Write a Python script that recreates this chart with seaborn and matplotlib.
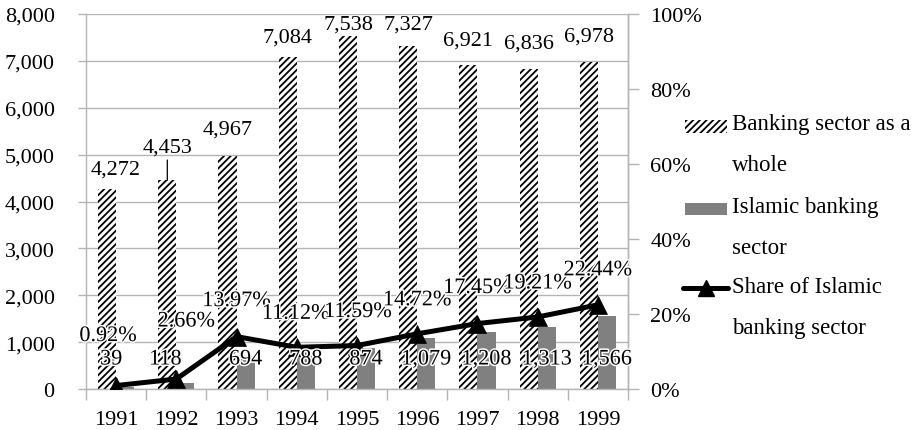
import matplotlib
matplotlib.use("Agg")
import matplotlib.pyplot as plt
import matplotlib.patheffects as pe
from matplotlib.patches import Rectangle
from matplotlib.lines import Line2D
import numpy as np
import pandas as pd
import seaborn as sns

# ---- data -------------------------------------------------------------
years = ["1991", "1992", "1993", "1994", "1995", "1996", "1997", "1998", "1999"]
banking_total = [4272, 4453, 4967, 7084, 7538, 7327, 6921, 6836, 6978]
islamic_banking = [39, 118, 694, 788, 874, 1079, 1208, 1313, 1566]
islamic_share = [0.92, 2.66, 13.97, 11.12, 11.59, 14.72, 17.45, 19.21, 22.44]
left_ticks = [0, 1000, 2000, 3000, 4000, 5000, 6000, 7000, 8000]
right_ticks = [0, 20, 40, 60, 80, 100]
series_names = ["Banking sector as a whole", "Islamic banking sector",
                "Share of Islamic banking sector"]

# ---- style ------------------------------------------------------------
sns.set_theme(style="white")
plt.rcParams["font.family"] = ["Liberation Serif", "DejaVu Serif"]
plt.rcParams["hatch.linewidth"] = 1.3
FS = 16
GRID = "#b4b4b4"
BAR_GRAY = "#808080"

W, H = 915, 431
fig = plt.figure(figsize=(W / 100, H / 100), dpi=100)
fig.patch.set_facecolor("white")
ax = fig.add_axes([86 / W, 1 - 390 / H, (628 - 86) / W, 375 / H])

df = pd.DataFrame({
    "Year": years * 2,
    "Value": banking_total + islamic_banking,
    "Series": [series_names[0]] * len(years) + [series_names[1]] * len(years),
})
sns.barplot(data=df, x="Year", y="Value", hue="Series",
            palette=["white", BAR_GRAY], saturation=1, width=0.6,
            ax=ax, legend=False, zorder=2)

for bar in ax.containers[0]:
    bar.set_hatch("/////")
    bar.set_edgecolor("black")
    bar.set_linewidth(0)
for bar in ax.containers[1]:
    bar.set_linewidth(0)

ax.set_xlim(-0.5, len(years) - 0.5)
ax.set_ylim(left_ticks[0], left_ticks[-1])
ax.set_yticks(left_ticks)
ax.set_yticklabels([f"{v:,}" for v in left_ticks], fontsize=FS, color="black")
ax.set_xlabel("")
ax.set_ylabel("")
ax.tick_params(axis="x", which="major", length=0, pad=15, labelsize=FS,
               labelcolor="black")
ax.set_xticks(np.arange(-0.5, len(years)), minor=True)
ax.tick_params(axis="x", which="minor", length=8, width=1, color=GRID,
               direction="out", bottom=True)
ax.tick_params(axis="y", length=6, width=1, color=GRID, direction="out",
               pad=16.5, left=True)
ax.yaxis.grid(True, color=GRID, linewidth=1)
ax.set_axisbelow(True)
for side in ["left", "bottom", "right"]:
    ax.spines[side].set_color(GRID)
    ax.spines[side].set_linewidth(1)
ax.spines["top"].set_visible(False)

# ---- share line on the secondary axis ---------------------------------
ax2 = ax.twinx()
x_pos = np.arange(len(years))
sns.lineplot(x=x_pos, y=islamic_share, ax=ax2, color="black", linewidth=3.6,
             marker="^", markersize=13, markeredgecolor="black",
             markeredgewidth=0.5, zorder=3)
ax2.set_ylim(right_ticks[0], right_ticks[-1])
ax2.set_yticks(right_ticks)
ax2.set_yticklabels([f"{v}%" for v in right_ticks], fontsize=FS, color="black")
ax2.tick_params(axis="y", length=8, width=1, color=GRID, direction="out",
                pad=8, right=True)
ax2.set_ylabel("")
for side in ["left", "bottom", "top"]:
    ax2.spines[side].set_visible(False)
ax2.spines["right"].set_color(GRID)
ax2.spines["right"].set_linewidth(1)
ax2.set_xlim(-0.5, len(years) - 0.5)

# ---- data labels ------------------------------------------------------
halo = [pe.withStroke(linewidth=2.2, foreground="white")]
total_offsets = [(9, 20), (0, 33), (0, 27), (0, 20), (0, 12),
                 (0, 21), (0, 25), (0, 26), (0, 26)]
for i, v in enumerate(banking_total):
    dx, dy = total_offsets[i]
    arrow = None
    if i == 1:
        arrow = dict(arrowstyle="-", color="black", lw=0.9,
                     shrinkA=0, shrinkB=0)
    ax2.annotate(f"{v:,}", xy=(i - 0.15, v), xycoords=ax.transData,
                 xytext=(dx * 0.72, dy * 0.72), textcoords="offset points",
                 ha="center", va="center", fontsize=FS, color="black",
                 arrowprops=arrow, zorder=5)

islamic_offsets = [(-14, 29), (-20, 29)] + [(0, 29)] * 7
for i, v in enumerate(islamic_banking):
    dx, dy = islamic_offsets[i]
    ax2.annotate(f"{v:,}", xy=(i + 0.15, 0), xycoords=ax.transData,
                 xytext=(dx * 0.72, dy * 0.72), textcoords="offset points",
                 ha="center", va="center", fontsize=FS, color="black",
                 path_effects=halo, zorder=6)

share_offsets = [(-8, 49), (10, 57), (0, 35), (-1, 33), (1, 33),
                 (0, 33), (0, 35), (0, 33), (0, 34)]
for i, v in enumerate(islamic_share):
    dx, dy = share_offsets[i]
    ax2.annotate(f"{v:.2f}%", xy=(i, v), xycoords="data",
                 xytext=(dx * 0.72, dy * 0.72), textcoords="offset points",
                 ha="center", va="center", fontsize=FS, color="black",
                 path_effects=halo, zorder=6)

# ---- legend -----------------------------------------------------------
def fx(px):
    return px / W


def fy(py):
    return 1 - py / H


fig.add_artist(Rectangle((fx(685), fy(134)), fx(727) - fx(685), 13 / H,
                         transform=fig.transFigure, facecolor="white",
                         edgecolor="black", linewidth=0, hatch="/////"))
fig.add_artist(Rectangle((fx(685), fy(216)), fx(727) - fx(685), 12 / H,
                         transform=fig.transFigure, facecolor=BAR_GRAY,
                         linewidth=0))
fig.add_artist(Line2D([fx(683), fx(728)], [fy(289), fy(289)],
                      transform=fig.transFigure, color="black", linewidth=3.6,
                      solid_capstyle="round"))
fig.add_artist(Line2D([fx(706)], [fy(289)], transform=fig.transFigure,
                      marker="^", markersize=11, color="black", linestyle=""))

legend_rows = [("Banking sector as a\nwhole", 145),
               ("Islamic banking\nsector", 228),
               ("Share of Islamic\nbanking sector", 308)]
for label, yc in legend_rows:
    fig.text(fx(732), fy(yc), label, ha="left", va="center", fontsize=16.5,
             color="black", linespacing=2.2)

fig.savefig("out.png", dpi=100)
